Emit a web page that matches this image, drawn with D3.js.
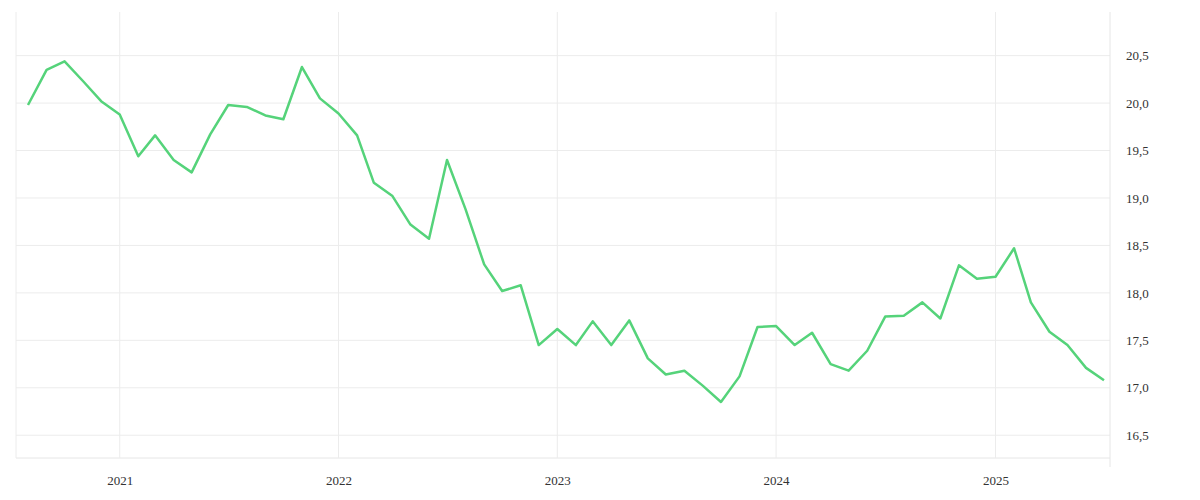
<!DOCTYPE html>
<meta charset="utf-8">
<script src="https://d3js.org/d3.v7.min.js"></script>
<style>body{margin:0;background:#fff}</style>
<div id="chart"></div>
<script>
// monthly values, Aug 2020 .. Jul 2025
var startMonth = "2020-08";
var values = [19.98,20.35,20.44,20.23,20.02,
  19.88,19.44,19.66,19.40,19.27,19.67,19.98,19.96,19.87,19.83,20.38,20.05,
  19.89,19.66,19.16,19.02,18.72,18.57,19.40,18.88,18.30,18.02,18.08,17.45,
  17.62,17.45,17.70,17.45,17.71,17.31,17.14,17.18,17.02,16.85,17.12,17.64,
  17.65,17.45,17.58,17.25,17.18,17.39,17.75,17.76,17.90,17.73,18.29,18.15,
  18.17,18.47,17.90,17.59,17.45,17.21,17.08];
var yTicks = [16.5,17.0,17.5,18.0,18.5,19.0,19.5,20.0,20.5];
var xTickYears = [2021,2022,2023,2024,2025];

var W = 1200, H = 500;
var pl = 16, pr = 1110, pt = 12, pb = 458;
var serif = "'Liberation Serif','DejaVu Serif',serif";

var t0 = d3.timeParse("%Y-%m")(startMonth);
var data = values.map(function(v, i) { return {date: d3.timeMonth.offset(t0, i), v: v}; });

var x = d3.scaleTime()
    .domain([new Date(2020, 7, 1), new Date(2025, 6, 1)])
    .range([28, 1104]);
var y = d3.scaleLinear().domain([16.26, 20.96]).range([pb, pt]);

var svg = d3.select("#chart").append("svg").attr("width", W).attr("height", H);

// horizontal grid
svg.append("g").selectAll("line").data(yTicks).enter().append("line")
    .attr("x1", pl).attr("x2", pr)
    .attr("y1", function(d) { return y(d); }).attr("y2", function(d) { return y(d); })
    .style("stroke", "#ececec");
svg.append("line").attr("x1", pl).attr("x2", pr).attr("y1", pb).attr("y2", pb).style("stroke", "#e6e6e6");

// vertical grid
var yearDates = xTickYears.map(function(yr) { return new Date(yr, 0, 1); });
svg.append("g").selectAll("line").data(yearDates).enter().append("line")
    .attr("x1", function(d) { return x(d); }).attr("x2", function(d) { return x(d); })
    .attr("y1", pt).attr("y2", pb)
    .style("stroke", "#ececec");
svg.append("line").attr("x1", pl).attr("x2", pl).attr("y1", pt).attr("y2", pb).style("stroke", "#ececec");
svg.append("line").attr("x1", pr).attr("x2", pr).attr("y1", pt).attr("y2", 467).style("stroke", "#e6e6e6");

// y labels (right)
var fmt = function(d) { return d3.format(".1f")(d).replace(".", ","); };
var yAxis = svg.append("g").attr("transform", "translate(1112,0)")
    .call(d3.axisRight(y).tickValues(yTicks).tickFormat(fmt).tickSize(0).tickPadding(14));
yAxis.select(".domain").remove();
yAxis.attr("font-family", serif).attr("font-size", 13);
yAxis.selectAll("text").style("fill", "#333");

// x labels
var xAxis = svg.append("g").attr("transform", "translate(0," + pb + ")")
    .call(d3.axisBottom(x).tickValues(yearDates).tickFormat(d3.timeFormat("%Y")).tickSize(0).tickPadding(18));
xAxis.select(".domain").remove();
xAxis.attr("font-family", serif).attr("font-size", 13);
xAxis.selectAll("text").style("fill", "#333");

// line
svg.append("path").datum(data)
    .attr("d", d3.line().x(function(d) { return x(d.date); }).y(function(d) { return y(d.v); }))
    .style("fill", "none").style("stroke", "#55d37a").style("stroke-width", 2.5)
    .style("stroke-linejoin", "round");
</script>
